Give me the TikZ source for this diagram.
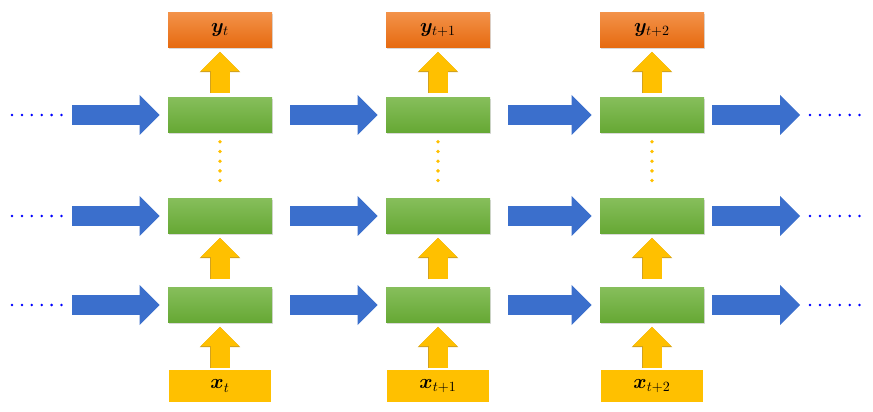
\documentclass[tikz,border=0pt]{standalone}
\usepackage{amsmath,bm}
\usepackage{xcolor}
\usetikzlibrary{arrows.meta,shadows}
\definecolor{greentop}{HTML}{86BE5B}
\definecolor{greenbot}{HTML}{66A834}
\definecolor{orangetop}{HTML}{F39249}
\definecolor{orangebot}{HTML}{E66A10}
\definecolor{flowblue}{HTML}{3B6FCC}
\definecolor{feedyellow}{HTML}{FFC000}
\definecolor{feededge}{HTML}{D2A21E}
\tikzset{
  cell/.style={minimum width=2.6cm,minimum height=0.875cm,inner sep=0pt,top color=greentop,bottom color=greenbot,
    drop shadow={shadow xshift=0.7pt,shadow yshift=-0.9pt,opacity=0.3}},
  outbox/.style={cell,top color=orangetop,bottom color=orangebot,font=\Large},
  inbox/.style={minimum width=2.6cm,minimum height=0.85cm,inner sep=0pt,fill=feedyellow,draw=black!15,
    double=white,double distance=1pt,line width=0.3pt,font=\Large},
  flow/.style={draw=flowblue,line width=0.5cm,-{Triangle[length=0pt 1,width=0pt 2,line width=0pt]}},
  feed/.style={draw=feedyellow,line width=0.475cm,-{Triangle[length=0pt 1,width=0pt 2,line width=0pt]},
    preaction={draw=feededge,line width=0.51cm}},
  hdots/.style={draw=blue,line width=2pt,line cap=round,dash pattern=on 0pt off 7.05pt},
  vdots/.style={draw=feedyellow,line width=2.7pt,line cap=round,dash pattern=on 0pt off 6.9pt,shorten <=0.225cm,shorten >=0.2cm}
}
\begin{document}
\begin{tikzpicture}
\useasboundingbox (0,0) rectangle (21.825,10.275);
% columns: output, three hidden layers, input
\foreach \c/\s [count=\i] in {5.5/t,10.95/{t+1},16.3/{t+2}}{
\node[outbox] (y\i) at (\c,9.525) {$\bm{y}_{\s}$};
\node[cell] (h\i) at (\c,7.4) {};\node[cell] (m\i) at (\c,4.875) {};\node[cell] (b\i) at (\c,2.65) {};
\node[inbox] (x\i) at (\c,0.625) {$\bm{x}_{\s}$};
\draw[feed,shorten <=0.03cm,shorten >=0.1cm](x\i)--(b\i);
\draw[feed,shorten <=0.2cm,shorten >=0.1cm](b\i)--(m\i);
\draw[feed,shorten <=0.1cm,shorten >=0.1cm](h\i)--(y\i);
\draw[vdots](h\i)--(m\i);
}
% rows: time steps
\foreach \r/\y in {h/7.4,m/4.875,b/2.65}{
\coordinate (\r d) at (0.3,\y);\coordinate (\r l) at (1.8,\y);
\coordinate (\r r) at (20.0,\y);\coordinate (\r e) at (21.55,\y);
\draw[hdots,shorten >=0.25cm](\r d)--(\r l);
\draw[flow,shorten >=0.2cm](\r l)--(\r 1);
\draw[flow,shorten <=0.45cm,shorten >=0.2cm](\r 1)--(\r 2);
\draw[flow,shorten <=0.45cm,shorten >=0.2cm](\r 2)--(\r 3);
\draw[flow,shorten <=0.2cm](\r 3)--(\r r);
\draw[hdots,shorten <=0.25cm](\r r)--(\r e);
}
\end{tikzpicture}
\end{document}
